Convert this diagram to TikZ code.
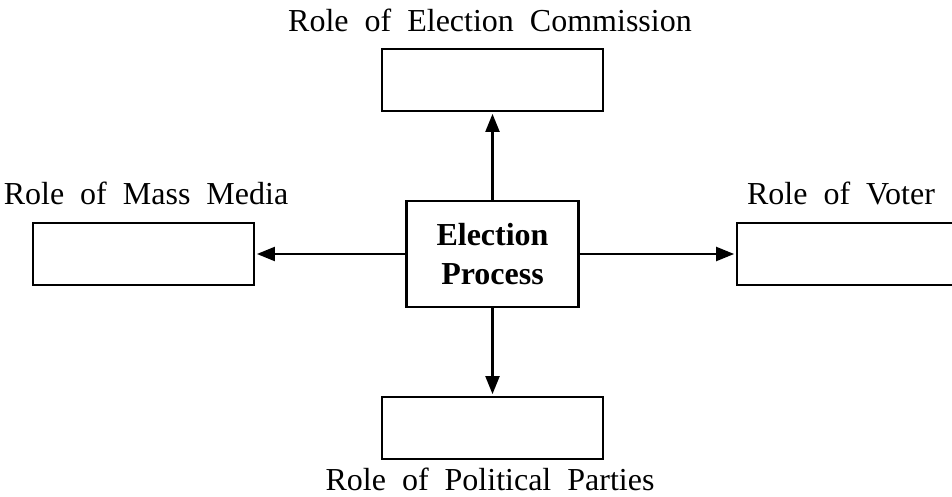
\documentclass[tikz,border=0pt]{standalone}
\usepackage{fontspec}
\setmainfont{Liberation Serif}[WordSpace=2]
\usetikzlibrary{arrows.meta}

\newcommand{\rolefont}{\fontsize{32}{36}\selectfont}

\begin{document}
\begin{tikzpicture}[x = 1pt, y = 1pt,
		box/.style = {draw, line width = 2.8pt, minimum width = 221pt, minimum height = 62pt, inner sep = 0pt},
		role/.style = {anchor = base, inner sep = 0pt, font = \rolefont},
		arr/.style = {line width = 2.2pt, -{Triangle[length = 18pt, width = 14pt]}, shorten >= 1.5pt}]
					\useasboundingbox (0,0) rectangle (952,496);
					\clip (0,0) rectangle (952,496);

					\node [box, minimum width = 172pt, minimum height = 106pt, align = center,
						font = \rolefont\bfseries, text depth = 0pt] (proc) at (492.5,242)
						{Election\\[3pt]Process};

					\node [box] (commission) at (492.5,416) {};
					\node [box] (media) at (143.5,242) {};
					\node [box] (voter) at (847.5,242) {};
					\node [box] (parties) at (492.5,68) {};

					\node [role] (commissionlabel) at (490,464) {Role of Election Commission};
					\node [role] (medialabel) at (146,291) {Role of Mass Media};
					\node [role] (voterlabel) at (841,291) {Role of Voter};
					\node [role] (partieslabel) at (490,6) {Role of Political Parties};

					\draw [arr] (proc.north) -- (commission.south);
					\draw [arr] (proc.south) -- (parties.north);
					\draw [arr] (proc.west) -- (media.east);
					\draw [arr] (proc.east) -- (voter.west);
				\end{tikzpicture}
\end{document}
